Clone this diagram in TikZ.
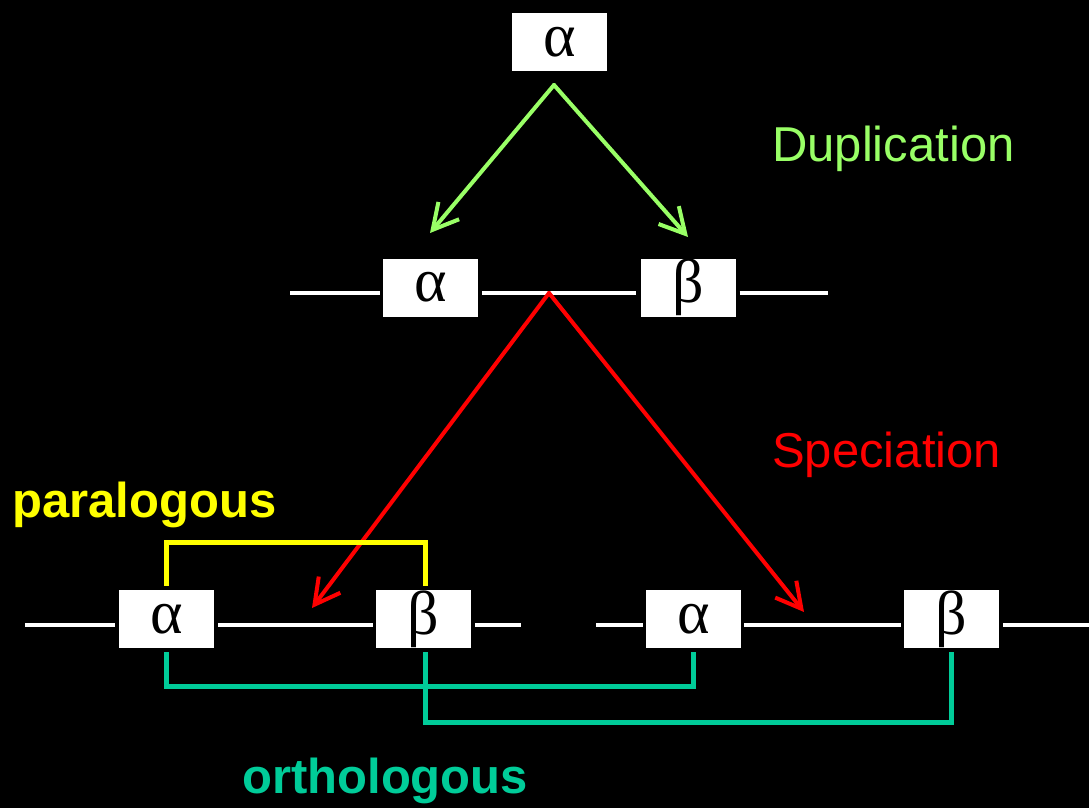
\documentclass[tikz,border=0pt]{standalone}
\usepackage{fontspec}
\setmainfont{Liberation Sans}
\newfontfamily\greekfont{Liberation Serif}
\usetikzlibrary{arrows.meta}
\definecolor{dupgreen}{HTML}{99FF66}
\definecolor{specred}{HTML}{FF0000}
\definecolor{parayellow}{HTML}{FFFF00}
\definecolor{orthoteal}{HTML}{00CC99}
\tikzset{
  gene/.style={fill=white, draw=none, minimum width=95pt, minimum height=58pt, inner sep=0pt,
    font=\greekfont\fontsize{62}{66}\selectfont, text=black},
  chrom/.style={draw=white, line width=3.5pt},
  duparrow/.style={draw=dupgreen, line width=4pt, line cap=round,
    -{Straight Barb[length=25pt,width=27pt,line width=4pt]}},
  specarrow/.style={draw=specred, line width=4pt, line cap=round,
    -{Straight Barb[length=25pt,width=27pt,line width=4pt]}},
  paraline/.style={draw=parayellow, line width=5pt},
  ortholine/.style={draw=orthoteal, line width=5pt},
  lbl/.style={anchor=base west, inner sep=0pt, font=\fontsize{49}{56}\selectfont},
  blbl/.style={lbl, font=\bfseries\fontsize{49}{56}\selectfont}
}
\begin{document}
\begin{tikzpicture}[x=1pt,y=-1pt]
\fill[black] (0,0) rectangle (1089,808);
\useasboundingbox (0,0) rectangle (1089,808);

% genes
\node[gene] (ta) at (559.5,42) {α};
\node[gene] (ma) at (430.5,287.5) {α};
\node[gene] (mb) at (688,287.5) {β};
\node[gene] (a1) at (166.5,619) {α};
\node[gene] (b1) at (423.5,619) {β};
\node[gene] (a2) at (693.5,619) {α};
\node[gene] (b2) at (951.5,619) {β};

% chromosome coordinates
\coordinate (mid) at (549,293);
\coordinate (ml) at (290,293);
\coordinate (mr) at (828,293);
\coordinate (bl1) at (25,625);
\coordinate (br1) at (521,625);
\coordinate (bl2) at (596,625);
\coordinate (br2) at (1089,625);

% middle chromosome
\draw[chrom] (ml) -- ([xshift=-3pt]ma.west |- ml);
\draw[chrom] ([xshift=4pt]ma.east |- mid) -- ([xshift=-4pt]mb.west |- mid);
\draw[chrom] ([xshift=4pt]mb.east |- mr) -- (mr);

% bottom chromosomes
\draw[chrom] (bl1) -- ([xshift=-4pt]a1.west |- bl1);
\draw[chrom] ([xshift=4pt]a1.east |- bl1) -- ([xshift=-3pt]b1.west |- bl1);
\draw[chrom] ([xshift=4pt]b1.east |- br1) -- (br1);
\draw[chrom] (bl2) -- ([xshift=-3pt]a2.west |- bl2);
\draw[chrom] ([xshift=3pt]a2.east |- bl2) -- ([xshift=-3pt]b2.west |- bl2);
\draw[chrom] ([xshift=4pt]b2.east |- br2) -- (br2);

% duplication arrows
\coordinate (dapex) at (554,85);
\coordinate (dl) at (430,233);
\coordinate (dr) at (688,237);
\draw[duparrow] (dapex) -- (dl);
\draw[duparrow] (dapex) -- (dr);

% speciation arrows
\coordinate (sl) at (312,608);
\coordinate (sr) at (804,612);
\draw[specarrow] (mid) -- (sl);
\draw[specarrow] (mid) -- (sr);

% paralogous bracket
\draw[paraline] ([yshift=4pt]a1.north) -- ++(0,-43) -| ([yshift=4pt,xshift=1.5pt]b1.north);

% orthologous brackets
\draw[ortholine] ([yshift=-4pt]a1.south) -- ++(0,34) -| ([yshift=-4pt]a2.south);
\draw[ortholine] ([yshift=-4pt,xshift=1.5pt]b1.south) -- ++(0,70) -| ([yshift=-4pt]b2.south);

% labels
\node[lbl, text=dupgreen] (dup) at (772,161) {Duplication};
\node[lbl, text=specred] (spec) at (772,467) {Speciation};
\node[blbl, text=parayellow] (para) at (12,517) {paralogous};
\node[blbl, text=orthoteal] (ortho) at (242,793) {orthologous};
\end{tikzpicture}
\end{document}
